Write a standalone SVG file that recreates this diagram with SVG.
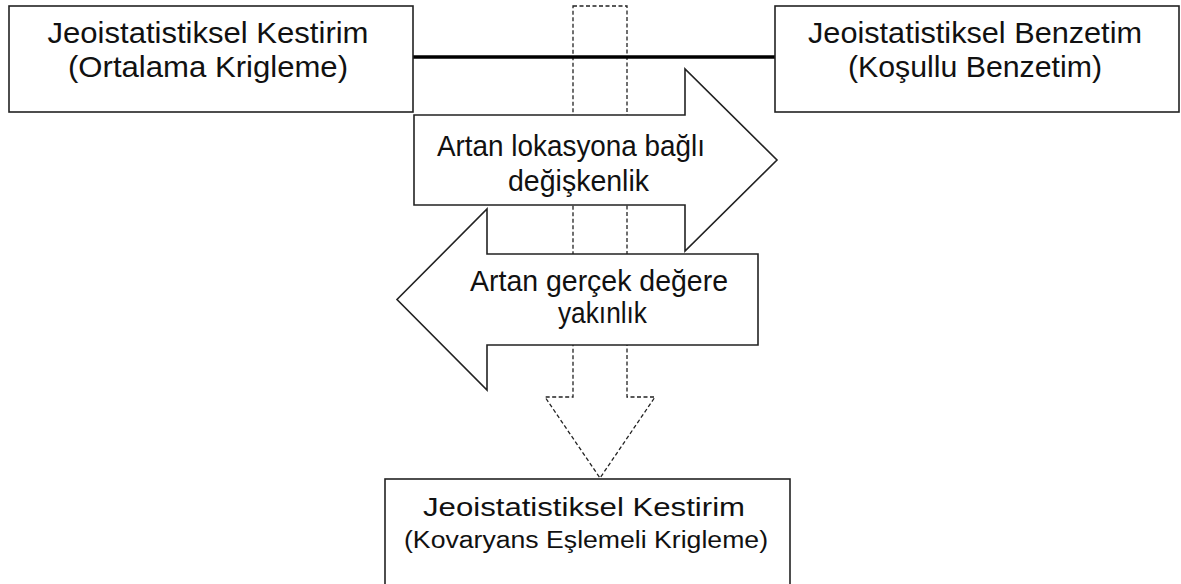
<svg xmlns="http://www.w3.org/2000/svg" width="1181" height="584" viewBox="0 0 1181 584">
<style>
.box{fill:#fff;stroke:#222;stroke-width:1.6}
.arrow{fill:#fff;stroke:#222;stroke-width:1.6;stroke-linejoin:miter}
.dash{fill:#fff;stroke:#222;stroke-width:1.3;stroke-dasharray:4 2.5}
.link{stroke:#000;stroke-width:3.5;fill:none}
text{font-family:"Liberation Sans",Arial,sans-serif;fill:#111;text-anchor:middle}
.t29{font-size:29px}
.t26{font-size:26px}
.t23{font-size:23px}
</style>
<rect width="1181" height="584" fill="#fff"/>
<g id="vertical-arrow">
<path class="dash" d="M573,6 L627,6 L627,397 L655,397 L600,478 L545,397 L573,397 Z"/>
</g>
<g id="connectors">
<line class="link" x1="413" y1="57" x2="775" y2="57"/>
</g>
<g id="node-left">
<rect class="box" x="9" y="6" width="404" height="106"/>
<text class="t29" x="208" y="43" textLength="321" lengthAdjust="spacingAndGlyphs">Jeoistatistiksel Kestirim</text>
<text class="t29" x="208" y="77" textLength="280" lengthAdjust="spacingAndGlyphs">(Ortalama Krigleme)</text>
</g>
<g id="node-right">
<rect class="box" x="775" y="6" width="404" height="106"/>
<text class="t29" x="975" y="43" textLength="334" lengthAdjust="spacingAndGlyphs">Jeoistatistiksel Benzetim</text>
<text class="t29" x="975" y="77" textLength="254" lengthAdjust="spacingAndGlyphs">(Koşullu Benzetim)</text>
</g>
<g id="arrow-right">
<path class="arrow" d="M414,115 L685,115 L685,69 L777,160 L685,251 L685,205 L414,205 Z"/>
<text class="t29" x="571" y="156" textLength="268" lengthAdjust="spacingAndGlyphs">Artan lokasyona bağlı</text>
<text class="t29" x="578.5" y="191" textLength="141" lengthAdjust="spacingAndGlyphs">değişkenlik</text>
</g>
<g id="arrow-left">
<path class="arrow" d="M758,254 L487,254 L487,209 L397,299.5 L487,390 L487,345 L758,345 Z"/>
<text class="t29" x="599" y="291" textLength="258" lengthAdjust="spacingAndGlyphs">Artan gerçek değere</text>
<text class="t29" x="602.5" y="323" textLength="89" lengthAdjust="spacingAndGlyphs">yakınlık</text>
</g>
<g id="node-bottom">
<rect class="box" x="385" y="479" width="405" height="130"/>
<text class="t26" x="584" y="516" textLength="322" lengthAdjust="spacingAndGlyphs">Jeoistatistiksel Kestirim</text>
<text class="t23" x="586" y="548" textLength="364" lengthAdjust="spacingAndGlyphs">(Kovaryans Eşlemeli Krigleme)</text>
</g>
</svg>
